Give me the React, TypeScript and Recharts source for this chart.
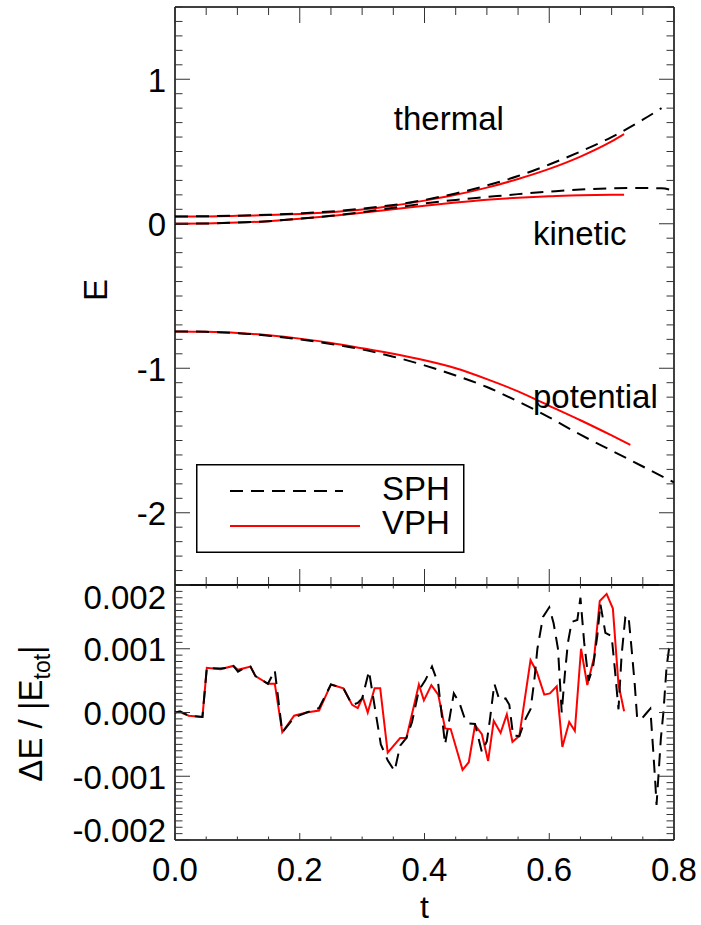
import React from "react";
import { LineChart, Line, XAxis, YAxis, Legend, ReferenceDot, Label } from "recharts";

const FONT = "'Liberation Sans', Arial, Helvetica, sans-serif";
const FS = 33;

// top panel: energies vs t  ([t, E])
const thermalSph = [
  [0, 0.05], [0.05, 0.052], [0.1, 0.056], [0.15, 0.062], [0.2, 0.072], [0.25, 0.085],
  [0.3, 0.105], [0.35, 0.13], [0.4, 0.165], [0.45, 0.21], [0.5, 0.265], [0.55, 0.33],
  [0.6, 0.41], [0.65, 0.5], [0.7, 0.6], [0.75, 0.72], [0.78, 0.8],
];
const thermalVph = [
  [0, 0.05], [0.05, 0.051], [0.1, 0.055], [0.15, 0.06], [0.2, 0.068], [0.25, 0.08],
  [0.3, 0.098], [0.35, 0.125], [0.4, 0.16], [0.45, 0.2], [0.5, 0.25], [0.55, 0.31],
  [0.6, 0.38], [0.65, 0.465], [0.7, 0.57], [0.72, 0.62],
];
const kineticSph = [
  [0, 0], [0.05, 0.002], [0.1, 0.008], [0.15, 0.018], [0.2, 0.035], [0.25, 0.055],
  [0.3, 0.08], [0.35, 0.11], [0.4, 0.14], [0.45, 0.165], [0.5, 0.185], [0.55, 0.205],
  [0.6, 0.222], [0.65, 0.237], [0.7, 0.245], [0.75, 0.248], [0.78, 0.245], [0.8, 0.23],
];
const kineticVph = [
  [0, 0], [0.05, 0.002], [0.1, 0.008], [0.15, 0.018], [0.2, 0.034], [0.25, 0.053],
  [0.3, 0.076], [0.35, 0.1], [0.4, 0.125], [0.45, 0.147], [0.5, 0.166], [0.55, 0.18],
  [0.6, 0.19], [0.65, 0.198], [0.7, 0.2], [0.72, 0.2],
];
const potentialSph = [
  [0, -0.745], [0.05, -0.748], [0.1, -0.757], [0.15, -0.775], [0.2, -0.8], [0.25, -0.832],
  [0.3, -0.87], [0.35, -0.92], [0.4, -0.98], [0.45, -1.05], [0.5, -1.13], [0.55, -1.23],
  [0.6, -1.34], [0.65, -1.46], [0.7, -1.57], [0.75, -1.68], [0.8, -1.79],
];
const potentialVph = [
  [0, -0.745], [0.05, -0.748], [0.1, -0.756], [0.15, -0.772], [0.2, -0.795], [0.25, -0.825],
  [0.3, -0.862], [0.35, -0.9], [0.4, -0.945], [0.45, -1.0], [0.5, -1.075], [0.55, -1.16],
  [0.6, -1.26], [0.65, -1.36], [0.7, -1.465], [0.73, -1.53],
];

// bottom panel: relative energy error, in units of 1e-3
const vphT = [
  0, 0.01, 0.022, 0.044, 0.051, 0.073, 0.093, 0.101, 0.121, 0.129, 0.149, 0.16, 0.172, 0.191,
  0.211, 0.231, 0.25, 0.27, 0.284, 0.293, 0.301, 0.309, 0.32, 0.329, 0.341, 0.361, 0.371,
  0.391, 0.399, 0.411, 0.422, 0.433, 0.442, 0.461, 0.471, 0.481, 0.492, 0.502, 0.511, 0.522,
  0.532, 0.541, 0.552, 0.57, 0.58, 0.592, 0.601, 0.612, 0.621, 0.632, 0.641, 0.651, 0.661,
  0.672, 0.681, 0.692, 0.702, 0.711, 0.72,
];
const vphErr = [
  0, 0, -0.05, -0.07, 0.7, 0.68, 0.73, 0.67, 0.72, 0.57, 0.45, 0.45, -0.31, -0.05,
  0, 0.03, 0.44, 0.38, 0.12, 0.07, 0.24, 0, 0.38, 0.38, -0.63, -0.4, -0.4,
  0.44, 0.19, 0.43, 0.28, -0.25, -0.26, -0.9, -0.78, -0.2, -0.34, -0.76, -0.13, -0.32,
  -0.03, -0.46, -0.37, 0.82, 0.64, 0.28, 0.3, 0.41, -0.54, -0.15, -0.29, 1.0, 0.43,
  0.87, 1.75, 1.86, 1.63, 0.44, 0.02,
];
const sphT = [
  0, 0.008, 0.022, 0.044, 0.051, 0.073, 0.085, 0.093, 0.101, 0.111, 0.121, 0.129, 0.149, 0.16,
  0.172, 0.191, 0.211, 0.231, 0.25, 0.27, 0.284, 0.293, 0.3, 0.311, 0.32, 0.33, 0.341, 0.352,
  0.361, 0.371, 0.38, 0.391, 0.401, 0.412, 0.422, 0.433, 0.447, 0.456, 0.464, 0.471, 0.481,
  0.492, 0.5, 0.505, 0.512, 0.52, 0.53, 0.536, 0.542, 0.552, 0.562, 0.57, 0.576, 0.581, 0.59,
  0.6, 0.607, 0.614, 0.62, 0.625, 0.63, 0.636, 0.645, 0.65, 0.656, 0.663, 0.67, 0.677, 0.682,
  0.69, 0.7, 0.705, 0.711, 0.716, 0.722, 0.727, 0.732, 0.737, 0.741, 0.748, 0.755, 0.762,
  0.766, 0.77, 0.772, 0.779, 0.783, 0.788, 0.792, 0.8,
];
const sphErr = [
  0, 0.02, -0.05, -0.07, 0.7, 0.69, 0.7, 0.74, 0.64, 0.7, 0.72, 0.57, 0.45, 0.66,
  -0.31, -0.08, 0, 0.07, 0.44, 0.38, 0.12, 0.15, 0.22, 0.65, 0.1, -0.5, -0.75, -0.92,
  -0.52, -0.4, -0.15, 0.35, 0.5, 0.72, 0.45, -0.5, 0.3, 0.15, -0.08, -0.17, -0.18,
  -0.62, -0.45, -0.1, 0.45, 0.2, 0.22, 0.12, -0.36, -0.37, -0.1, 0.05, 0.5, 1.0, 1.5,
  1.65, 1.4, 1.0, 0, 0.6, 1.1, 1.42, 1.45, 1.8, 1.1, 0.5, 0.7, 1.2, 1.7,
  1.25, 1.2, 0.7, 0.05, 0.9, 1.5, 1.52, 1.0, 0.45, -0.1, -0.1, -0.02, 0.06,
  -0.5, -1.1, -1.45, -0.4, 0, 0.7, 1.0, 1.04,
];

// axis ticks
const tMajor = [0, 0.2, 0.4, 0.6, 0.8];
const eMajor = [-2, -1, 0, 1];
const errMajor = [-2, -1, 0, 1, 2];

const legendItems = [
  { name: "SPH", color: "#000000", dash: "13 8", len: 113 },
  { name: "VPH", color: "#ff0000", dash: undefined, len: 130 },
];

const pairs = (a: number[][]) => a.map(([t, v]) => ({ t, v }));
const zip = (t: number[], v: number[]) => t.map((x, i) => ({ t: x, v: v[i] }));
const steps = (a: number, b: number, s: number) =>
  Array.from({ length: Math.round((b - a) / s) + 1 }, (_, i) => +(a + i * s).toFixed(6));
const isMajor = (majors: number[], v: number) => majors.some((m) => Math.abs(m - v) < 1e-6);

const tTicks = steps(0, 0.8, 0.05);
const eTicks = steps(-2.5, 1.5, 0.1);
const errTicks = steps(-2, 2, 0.1);

const TICK = { stroke: "#333", strokeWidth: 1 };
const AXIS = { stroke: "#000", strokeWidth: 1.5 };

function tickFn(
  side: "top" | "bottom" | "left" | "right",
  len: number,
  majors: number[],
  fmt?: (v: number) => string,
  nudge?: (v: number) => number
) {
  return (props: any) => {
    const { x, y, payload } = props;
    const v = payload.value;
    const maj = isMajor(majors, v);
    const L = maj ? len : len / 2;
    let line;
    if (side === "bottom") line = <line x1={x} y1={y} x2={x} y2={y - L} {...TICK} />;
    else if (side === "top") line = <line x1={x} y1={y} x2={x} y2={y + L} {...TICK} />;
    else if (side === "left") line = <line x1={x} y1={y} x2={x + L} y2={y} {...TICK} />;
    else line = <line x1={x} y1={y} x2={x - L} y2={y} {...TICK} />;
    let label = null;
    if (fmt && maj) {
      label =
        side === "bottom" ? (
          <text x={x} y={y + 41} textAnchor="middle" fontSize={FS} fontFamily={FONT} fill="#000">
            {fmt(v)}
          </text>
        ) : (
          <text
            x={x - 9}
            y={y + 1 + (nudge ? nudge(v) : 0)}
            textAnchor="end"
            dominantBaseline="central"
            fontSize={FS}
            fontFamily={FONT}
            fill="#000"
          >
            {fmt(v)}
          </text>
        );
    }
    return (
      <g>
        {line}
        {label}
      </g>
    );
  };
}

const Annot = (props: any) => {
  const { viewBox, value } = props;
  return (
    <text
      x={viewBox.x + viewBox.width / 2}
      y={viewBox.y + viewBox.height / 2}
      textAnchor="middle"
      fontSize={FS}
      fontFamily={FONT}
      fill="#000"
    >
      {value}
    </text>
  );
};

const LegendBox = () => (
  <svg width={269} height={90} style={{ display: "block" }}>
    <rect x={0.75} y={0.75} width={267} height={87.5} fill="#fff" stroke="#000" strokeWidth={1.5} />
    {legendItems.map((it, i) => (
      <g key={it.name}>
        <line
          x1={34}
          x2={34 + it.len}
          y1={27 + i * 35}
          y2={27 + i * 35}
          stroke={it.color}
          strokeWidth={2}
          strokeDasharray={it.dash}
        />
        <text x={186} y={36 + i * 34} fontSize={FS} fontFamily={FONT} fill="#000">
          {it.name}
        </text>
      </g>
    ))}
  </svg>
);

const sphLine = { stroke: "#000", strokeWidth: 2, strokeDasharray: "13 8", dot: false };
const vphLine = { stroke: "#ff0000", strokeWidth: 2, dot: false };

export default function App() {
  const top = [
    { key: "thV", data: pairs(thermalVph), s: vphLine },
    { key: "kiV", data: pairs(kineticVph), s: vphLine },
    { key: "poV", data: pairs(potentialVph), s: vphLine },
    { key: "thS", data: pairs(thermalSph), s: sphLine },
    { key: "kiS", data: pairs(kineticSph), s: sphLine },
    { key: "poS", data: pairs(potentialSph), s: sphLine },
  ];
  return (
    <div style={{ position: "absolute", left: 0, top: 0, width: 701, height: 925, background: "#fff", overflow: "hidden" }}>
      <div style={{ position: "absolute", left: 0, top: 0 }}>
        <LineChart width={701} height={586} margin={{ top: 6, right: 26, bottom: 0, left: 174 }}>
          <XAxis xAxisId="b" dataKey="t" type="number" domain={[0, 0.8]} allowDataOverflow
            ticks={tTicks} interval={0} height={1} tickSize={0} tickMargin={0}
            axisLine={AXIS} tickLine={false} tick={tickFn("bottom", 16, tMajor)} />
          <XAxis xAxisId="t" orientation="top" dataKey="t" type="number" domain={[0, 0.8]} allowDataOverflow
            ticks={tTicks} interval={0} height={1} tickSize={0} tickMargin={0}
            axisLine={AXIS} tickLine={false} tick={tickFn("top", 16, tMajor)} />
          <YAxis yAxisId="l" type="number" domain={[-2.5, 1.5]} allowDataOverflow
            ticks={eTicks} interval={0} width={1} tickSize={0} tickMargin={0}
            axisLine={AXIS} tickLine={false} tick={tickFn("left", 15, eMajor, (v) => String(v))}>
            <Label
              content={(p: any) => (
                <text transform={`translate(${p.viewBox.x - 67}, 290) rotate(-90)`} textAnchor="middle"
                  fontSize={FS} fontFamily={FONT} fill="#000">E</text>
              )}
            />
          </YAxis>
          <YAxis yAxisId="r" orientation="right" type="number" domain={[-2.5, 1.5]} allowDataOverflow
            ticks={eTicks} interval={0} width={1} tickSize={0} tickMargin={0}
            axisLine={AXIS} tickLine={false} tick={tickFn("right", 15, eMajor)} />
          {top.map((l) => (
            <Line key={l.key} xAxisId="b" yAxisId="l" data={l.data} dataKey="v" type="monotone"
              isAnimationActive={false} {...l.s} />
          ))}
          <ReferenceDot xAxisId="b" yAxisId="l" x={0.439} y={0.649} r={0} fill="none" stroke="none"
            label={<Label value="thermal" content={Annot} />} />
          <ReferenceDot xAxisId="b" yAxisId="l" x={0.649} y={-0.147} r={0} fill="none" stroke="none"
            label={<Label value="kinetic" content={Annot} />} />
          <ReferenceDot xAxisId="b" yAxisId="l" x={0.674} y={-1.273} r={0} fill="none" stroke="none"
            label={<Label value="potential" content={Annot} />} />
          <Legend layout="vertical" align="center" verticalAlign="middle"
            wrapperStyle={{ left: 196, top: 464, width: 269, height: 90 }} content={() => <LegendBox />} />
        </LineChart>
      </div>
      <div style={{ position: "absolute", left: 0, top: 564 }}>
        <LineChart width={701} height={380} margin={{ top: 20, right: 26, bottom: 103, left: 174 }}>
          <XAxis xAxisId="b" dataKey="t" type="number" domain={[0, 0.8]} allowDataOverflow
            ticks={tTicks} interval={0} height={1} tickSize={0} tickMargin={0}
            axisLine={AXIS} tickLine={false} tick={tickFn("bottom", 7, tMajor, (v) => v.toFixed(1))}>
            <Label
              content={(p: any) => (
                <text x={p.viewBox.x + p.viewBox.width / 2} y={p.viewBox.y + 78} textAnchor="middle"
                  fontSize={32} fontFamily={FONT} fill="#000">t</text>
              )}
            />
          </XAxis>
          <XAxis xAxisId="t" orientation="top" dataKey="t" type="number" domain={[0, 0.8]} allowDataOverflow
            ticks={tTicks} interval={0} height={1} tickSize={0} tickMargin={0}
            axisLine={AXIS} tickLine={false} tick={tickFn("top", 7, tMajor)} />
          <YAxis yAxisId="l" type="number" domain={[-2, 2]} allowDataOverflow
            ticks={errTicks} interval={0} width={1} tickSize={0} tickMargin={0}
            axisLine={AXIS} tickLine={false}
            tick={tickFn("left", 15, errMajor, (v) => (v / 1000).toFixed(3), (v) => (v >= 2 ? 11 : v <= -2 ? -11 : 0))}>
            <Label
              content={(p: any) => (
                <text transform={`translate(${p.viewBox.x - 132}, ${p.viewBox.y + p.viewBox.height / 2 + 1}) rotate(-90)`}
                  textAnchor="middle" fontSize={FS} fontFamily={FONT} fill="#000">
                  <tspan>ΔE / |E</tspan>
                  <tspan fontSize={23} dy={8}>tot</tspan>
                  <tspan dy={-8}>|</tspan>
                </text>
              )}
            />
          </YAxis>
          <YAxis yAxisId="r" orientation="right" type="number" domain={[-2, 2]} allowDataOverflow
            ticks={errTicks} interval={0} width={1} tickSize={0} tickMargin={0}
            axisLine={AXIS} tickLine={false} tick={tickFn("right", 15, errMajor)} />
          <Line xAxisId="b" yAxisId="l" data={zip(vphT, vphErr)} dataKey="v" type="linear"
            isAnimationActive={false} {...vphLine} />
          <Line xAxisId="b" yAxisId="l" data={zip(sphT, sphErr)} dataKey="v" type="linear"
            isAnimationActive={false} {...sphLine} />
        </LineChart>
      </div>
    </div>
  );
}
